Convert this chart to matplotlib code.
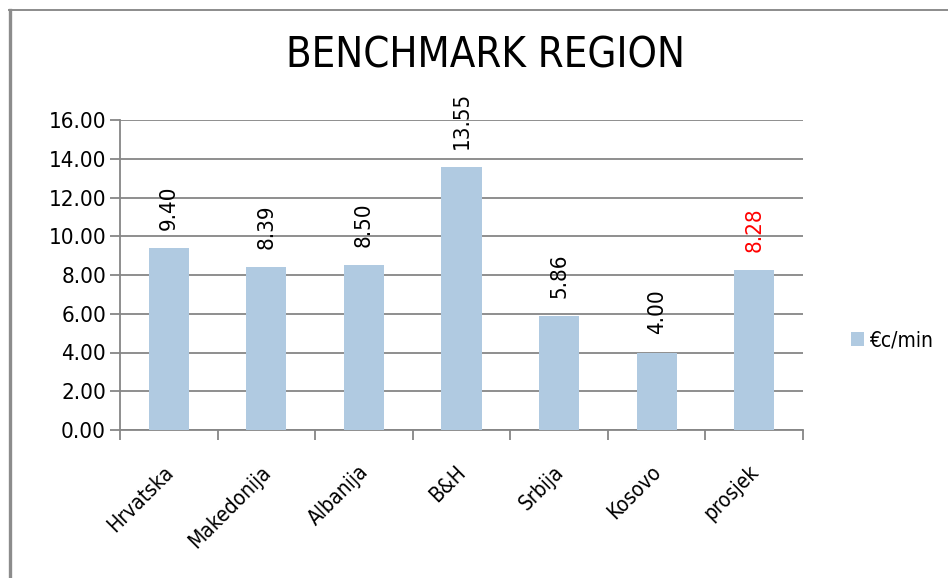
import matplotlib.pyplot as plt
from matplotlib.lines import Line2D

countries = ["Hrvatska", "Makedonija", "Albanija", "B&H", "Srbija", "Kosovo", "prosjek"]
values = [9.40, 8.39, 8.50, 13.55, 5.86, 4.00, 8.28]
label_colors = ["black"] * 6 + ["red"]
yticks = [0, 2, 4, 6, 8, 10, 12, 14, 16]
series_name = "€c/min"

bar_color = "#B0CAE1"
grid_color = "#868686"
plt.rcParams["font.family"] = ["DejaVu Sans"]
plt.rcParams["font.stretch"] = "condensed"

fig = plt.figure(figsize=(9.48, 5.78), dpi=100)
# outer chart frame (left and top edges visible)
fig.add_artist(Line2D([10 / 948, 10 / 948], [0, 1 - 9.5 / 578], transform=fig.transFigure,
                      color="#8c8c8c", linewidth=2.4))
fig.add_artist(Line2D([9 / 948, 1], [1 - 9.5 / 578, 1 - 9.5 / 578], transform=fig.transFigure,
                      color="#8c8c8c", linewidth=1.4))

ax = fig.add_axes([120 / 948, 1 - 430 / 578, 683 / 948, 310 / 578])
x = range(len(countries))
bars = ax.bar(x, values, width=0.41, color=bar_color, label=series_name, zorder=3)

for xi, v, c in zip(x, values, label_colors):
    ax.annotate(f"{v:.2f}", xy=(xi, v), xytext=(0, 13), textcoords="offset points",
                rotation=90, ha="center", va="bottom", fontsize=16, color=c)

ax.set_xlim(-0.5, len(countries) - 0.5)
ax.set_ylim(0, 16)
ax.set_yticks(yticks)
ax.set_yticklabels([f"{t:.2f}" for t in yticks], fontsize=16)
ax.yaxis.grid(True, color=grid_color, linewidth=1.3, zorder=0)
ax.tick_params(axis="y", length=7, width=1.3, color=grid_color, pad=3)

ax.set_xticks([i - 0.5 for i in range(len(countries) + 1)])
ax.set_xticklabels([])
ax.tick_params(axis="x", length=7, width=1.3, color=grid_color)

for xi, name in zip(x, countries):
    ax.annotate(name, xy=(xi, 0), xycoords=("data", "axes fraction"),
                xytext=(1, -28), textcoords="offset points", rotation=45,
                rotation_mode="anchor", ha="right", va="center", fontsize=15)

for s in ["top", "right"]:
    ax.spines[s].set_visible(False)
for s in ["left", "bottom"]:
    ax.spines[s].set_color(grid_color)
    ax.spines[s].set_linewidth(1.3)

fig.text(486 / 948, 1 - 68 / 578, "BENCHMARK REGION", ha="center", va="baseline",
         fontsize=30)

fig.legend(handles=[bars], labels=[series_name], loc="center left",
           bbox_to_anchor=(832 / 948, 1 - 340 / 578), frameon=False, fontsize=15,
           handlelength=0.65, handleheight=0.65, handletextpad=0.25)

fig.savefig("out.png", dpi=100)
